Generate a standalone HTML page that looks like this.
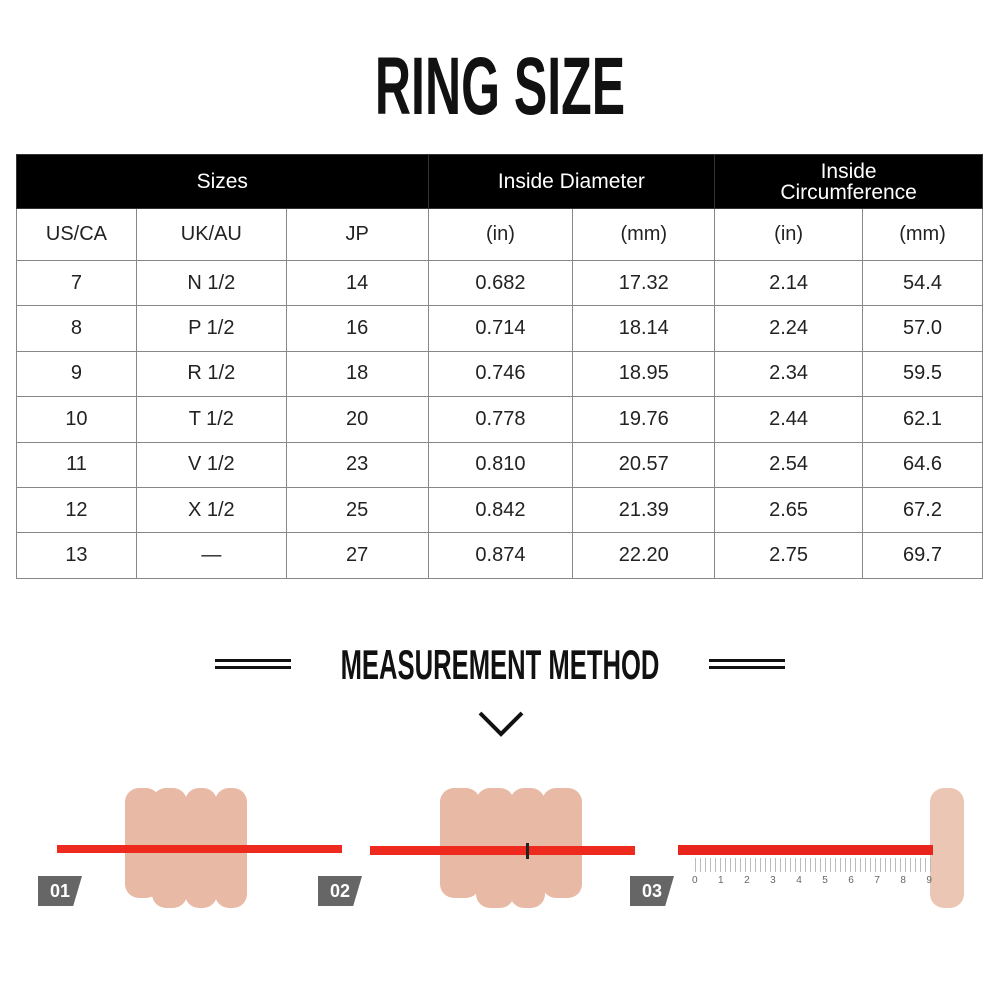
<!DOCTYPE html>
<html><head><style>
body{margin:0;width:1000px;height:1000px;background:#fff;position:relative;overflow:hidden;font-family:"Liberation Sans",sans-serif;}
.a{position:absolute}
.t{position:absolute;left:0;width:1000px;text-align:center;font-weight:bold;color:#111;transform:scaleX(0.61);transform-origin:500px 0}
table{position:absolute;left:16px;top:154px;border-collapse:collapse;width:967px}
td{border:1px solid #888;text-align:center;font-size:20px;color:#222;height:45.4px;padding:0;box-sizing:border-box}
.h td{background:#000;color:#fff;height:54px;border-color:#333;font-size:21px;line-height:21px}
.s td{height:52px}
.f{position:absolute;background:#e8b9a4;border-radius:14px}
.lab{position:absolute;width:44px;height:30px;background:#666;color:#fff;font-weight:bold;font-size:18px;line-height:30px;text-align:center;clip-path:polygon(0 0,100% 0,80% 100%,0 100%)}
</style></head><body>
<div class="t" style="top:42px;font-size:82px;line-height:90px">RING SIZE</div>
<table>
<colgroup><col style="width:120px"><col style="width:150px"><col style="width:142px"><col style="width:145px"><col style="width:142px"><col style="width:148px"><col style="width:120px"></colgroup>
<tr class="h"><td colspan="3">Sizes</td><td colspan="2">Inside Diameter</td><td colspan="2">Inside<br>Circumference</td></tr>
<tr class="s"><td>US/CA</td><td>UK/AU</td><td>JP</td><td>(in)</td><td>(mm)</td><td>(in)</td><td>(mm)</td></tr>
<tr><td>7</td><td>N 1/2</td><td>14</td><td>0.682</td><td>17.32</td><td>2.14</td><td>54.4</td></tr>
<tr><td>8</td><td>P 1/2</td><td>16</td><td>0.714</td><td>18.14</td><td>2.24</td><td>57.0</td></tr>
<tr><td>9</td><td>R 1/2</td><td>18</td><td>0.746</td><td>18.95</td><td>2.34</td><td>59.5</td></tr>
<tr><td>10</td><td>T 1/2</td><td>20</td><td>0.778</td><td>19.76</td><td>2.44</td><td>62.1</td></tr>
<tr><td>11</td><td>V 1/2</td><td>23</td><td>0.810</td><td>20.57</td><td>2.54</td><td>64.6</td></tr>
<tr><td>12</td><td>X 1/2</td><td>25</td><td>0.842</td><td>21.39</td><td>2.65</td><td>67.2</td></tr>
<tr><td>13</td><td>—</td><td>27</td><td>0.874</td><td>22.20</td><td>2.75</td><td>69.7</td></tr>
</table>
<div class="a" style="left:215px;top:659px;width:76px;height:3px;background:#111"></div>
<div class="a" style="left:215px;top:666px;width:76px;height:3px;background:#111"></div>
<div class="a" style="left:709px;top:659px;width:76px;height:3px;background:#111"></div>
<div class="a" style="left:709px;top:666px;width:76px;height:3px;background:#111"></div>
<div class="t" style="top:642px;font-size:42px;line-height:46px">MEASUREMENT METHOD</div>
<svg class="a" style="left:478px;top:710px" width="46" height="28"><polyline points="2,3 23,24 44,3" fill="none" stroke="#111" stroke-width="4"/></svg>
<div class="f" style="left:125px;top:788px;width:35px;height:110px"></div>
<div class="f" style="left:152px;top:788px;width:35px;height:120px"></div>
<div class="f" style="left:185px;top:788px;width:32px;height:120px"></div>
<div class="f" style="left:215px;top:788px;width:32px;height:120px"></div>
<div class="a" style="left:57px;top:845px;width:285px;height:8px;background:#ee2a1e"></div>
<div class="lab" style="left:38px;top:876px">01</div>
<div class="f" style="left:440px;top:788px;width:40px;height:110px"></div>
<div class="f" style="left:476px;top:788px;width:38px;height:120px"></div>
<div class="f" style="left:510px;top:788px;width:35px;height:120px"></div>
<div class="f" style="left:542px;top:788px;width:40px;height:110px"></div>
<div class="a" style="left:370px;top:846px;width:265px;height:9px;background:#ee2a1e"></div>
<div class="a" style="left:526px;top:843px;width:3px;height:16px;background:#222"></div>
<div class="lab" style="left:318px;top:876px">02</div>
<div class="f" style="left:930px;top:788px;width:34px;height:120px;background:#ecc6b4"></div>
<div class="a" style="left:678px;top:845px;width:255px;height:10px;background:#e8241c"></div>
<div class="a" style="left:695px;top:858px;width:238px;height:14px;background:repeating-linear-gradient(90deg,#bbb 0 1px,transparent 1px 5px)"></div>
<div class="a" style="left:692px;top:875px;width:240px;font-size:10px;color:#666;display:flex;justify-content:space-between"><span>0</span><span>1</span><span>2</span><span>3</span><span>4</span><span>5</span><span>6</span><span>7</span><span>8</span><span>9</span></div>
<div class="lab" style="left:630px;top:876px">03</div>
</body></html>
